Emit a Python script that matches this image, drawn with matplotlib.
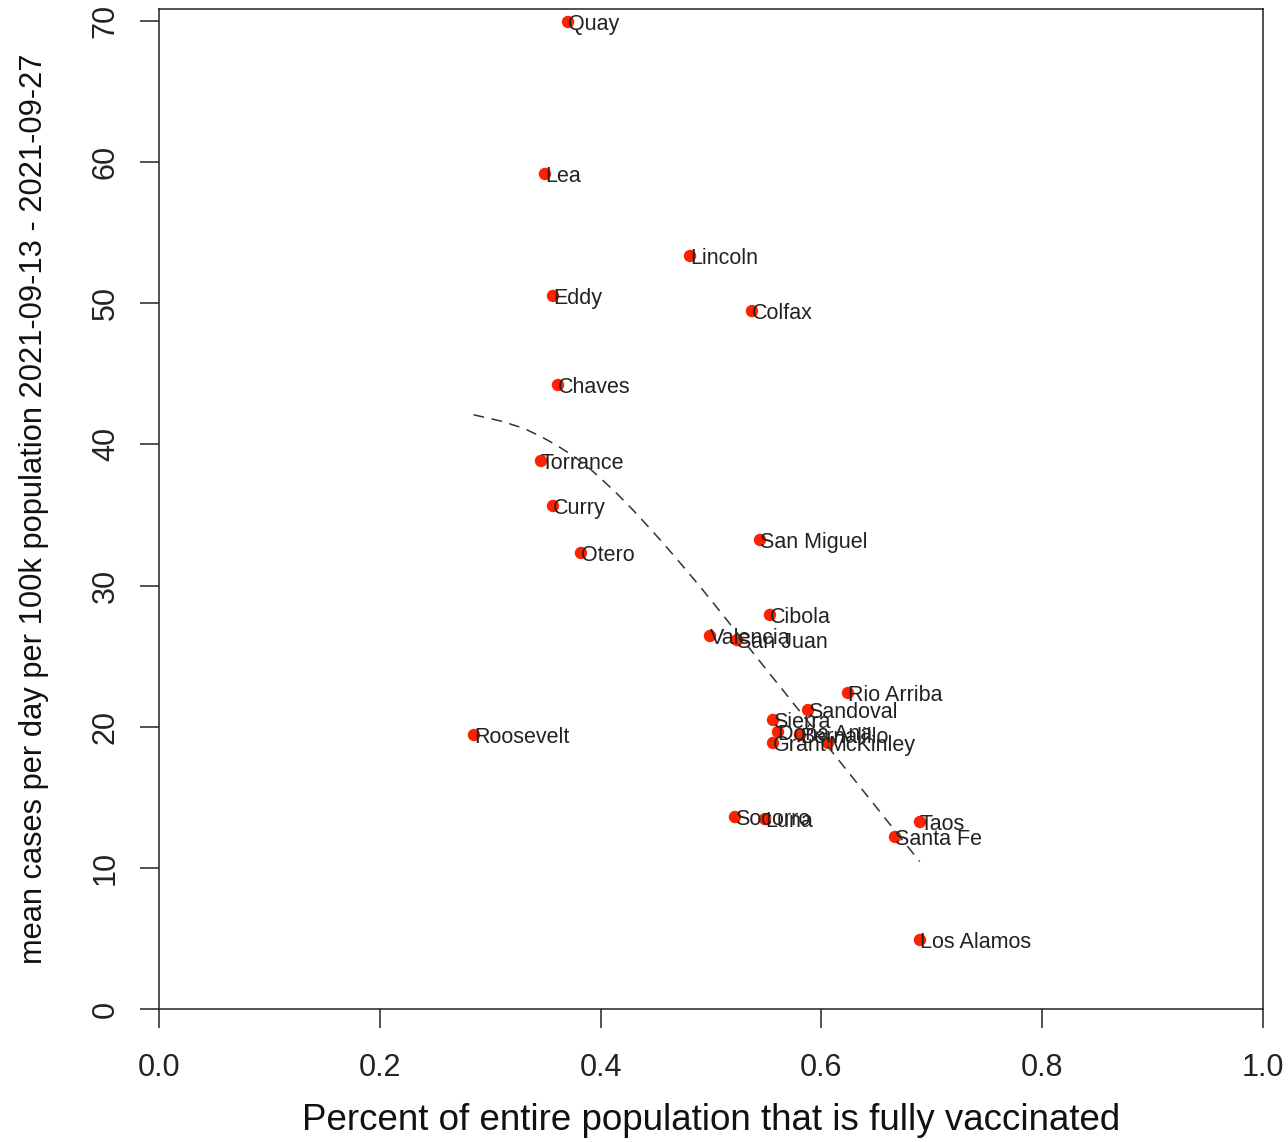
import matplotlib
matplotlib.use("Agg")
from matplotlib import pyplot as plt

# county, share fully vaccinated, mean cases per day per 100k
counties = ["Quay", "Lea", "Lincoln", "Eddy", "Colfax", "Chaves", "Torrance",
            "Curry", "Otero", "San Miguel", "Cibola", "Valencia", "San Juan",
            "Rio Arriba", "Sandoval", "Sierra", "Doña Ana", "Bernalillo",
            "Grant", "McKinley", "Roosevelt", "Socorro", "Luna", "Taos",
            "Santa Fe", "Los Alamos"]
vaccinated = [0.3705, 0.3496, 0.481, 0.3569, 0.5371, 0.3614, 0.346,
              0.3569, 0.3822, 0.5444, 0.5534, 0.4991, 0.5236,
              0.6241, 0.5879, 0.5562, 0.5607, 0.5806,
              0.5562, 0.606, 0.2853, 0.5217, 0.5489, 0.6893,
              0.6667, 0.6893]
cases = [69.93, 59.16, 53.35, 50.52, 49.45, 44.21, 38.83,
         35.64, 32.31, 33.23, 27.92, 26.43, 26.14,
         22.39, 21.18, 20.48, 19.63, 19.41,
         18.85, 18.85, 19.41, 13.60, 13.46, 13.25,
         12.19, 4.89]

# smoothed trend (dashed)
curve_x = [0.285, 0.31, 0.33, 0.345, 0.36, 0.375, 0.39, 0.40, 0.415, 0.43,
           0.44, 0.455, 0.465, 0.48, 0.49, 0.50, 0.515, 0.535, 0.55, 0.57,
           0.59, 0.605, 0.62, 0.64, 0.655, 0.67, 0.689]
curve_y = [42.1, 41.65, 41.15, 40.6, 39.95, 39.2, 38.3, 37.6, 36.5, 35.3,
           34.45, 33.15, 32.25, 30.87, 29.93, 28.97, 27.5, 25.54, 24.07, 22.11,
           20.15, 18.68, 17.21, 15.25, 13.78, 12.31, 10.45]

x_ticks = [0.0, 0.2, 0.4, 0.6, 0.8, 1.0]
y_ticks = [0, 10, 20, 30, 40, 50, 60, 70]

plt.rcParams["font.family"] = ["Liberation Sans", "DejaVu Sans"]

fig = plt.figure(figsize=(12.88, 11.42), dpi=100)
ax = fig.add_axes([159 / 1288, 133 / 1142, 1104 / 1288, 1000 / 1142])

ax.scatter(vaccinated, cases, s=80, color="#ff2200", edgecolors="none", zorder=2)
for name, x, y in zip(counties, vaccinated, cases):
    ax.annotate(name, (x, y), xytext=(0, -1.5), textcoords="offset points",
                ha="left", va="center", fontsize=15.5, color="#222222", zorder=3)
ax.plot(curve_x, curve_y, color="#333333", lw=1.1, linestyle=(0, (7, 5)), zorder=4)

ax.set_xlim(0, 1)
ax.set_ylim(0, 70.85)
ax.set_xticks(x_ticks)
ax.set_xticklabels(["%.1f" % t for t in x_ticks])
ax.set_yticks(y_ticks)
ax.set_yticklabels([str(t) for t in y_ticks], rotation=90, va="center")
ax.tick_params(axis="both", length=13.5, width=1.1, labelsize=22, colors="#222222")
ax.tick_params(axis="x", pad=18)
ax.tick_params(axis="y", pad=14)

for sp in ax.spines.values():
    sp.set_linewidth(1.1)
    sp.set_color("#222222")

ax.set_xlabel("Percent of entire population that is fully vaccinated", fontsize=26.5, color="#111111")
ax.xaxis.set_label_coords(0.5, -0.111)
ax.xaxis.label.set_va("center")
ax.set_ylabel("mean cases per day per 100k population 2021-09-13 - 2021-09-27", fontsize=22.2, color="#111111")
ax.yaxis.set_label_coords(-0.113, 0.5)
ax.yaxis.label.set_va("center")

fig.savefig("out.png", dpi=100)
